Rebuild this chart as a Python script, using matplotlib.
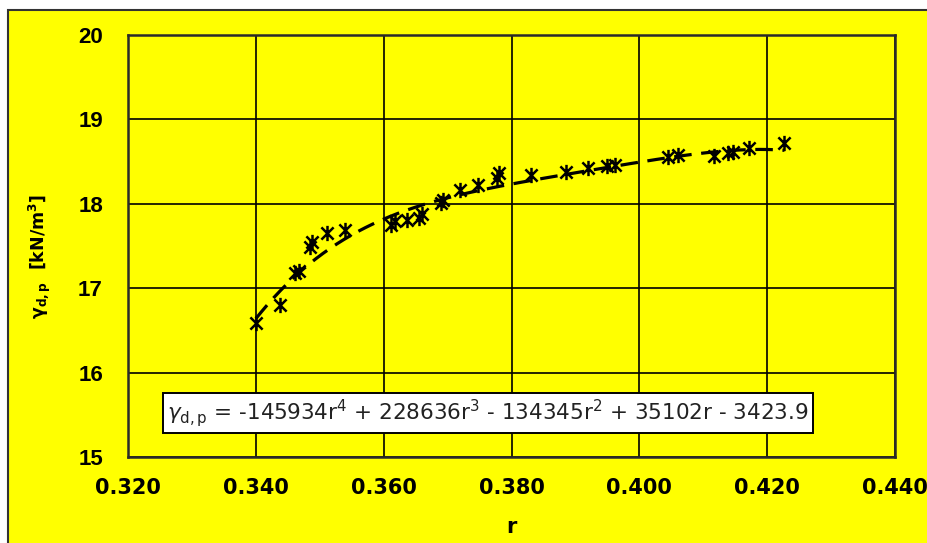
import numpy as np
import matplotlib
matplotlib.use("Agg")
import matplotlib.pyplot as plt
from matplotlib.path import Path
from matplotlib.patches import Rectangle

plt.rcParams['font.family'] = ['DejaVu Sans']
plt.rcParams['mathtext.fontset'] = 'dejavusans'

# measured porosity r and dry unit weight gamma_d,p [kN/m3]
r_vals = [0.3400, 0.3438, 0.3462, 0.3467, 0.3485, 0.3488, 0.3512, 0.3540,
          0.3611, 0.3618, 0.3637, 0.3655, 0.3660, 0.3689, 0.3693, 0.3720,
          0.3747, 0.3778, 0.3780, 0.3830, 0.3885, 0.3920, 0.3950, 0.3962,
          0.4045, 0.4060, 0.4117, 0.4139, 0.4147, 0.4172, 0.4227]
gamma_vals = [16.59, 16.80, 17.18, 17.20, 17.49, 17.55, 17.65, 17.69,
              17.75, 17.80, 17.81, 17.83, 17.88, 18.01, 18.04, 18.16,
              18.22, 18.31, 18.36, 18.34, 18.38, 18.42, 18.45, 18.46,
              18.55, 18.58, 18.57, 18.60, 18.61, 18.66, 18.72]

# 4th-order trend line coefficients (highest power first)
trend_coeffs = [-145934, 228636, -134345, 35102, -3423.9]

x_ticks = [0.320, 0.340, 0.360, 0.380, 0.400, 0.420, 0.440]
y_ticks = [15, 16, 17, 18, 19, 20]

YELLOW = '#FFFF00'

fig = plt.figure(figsize=(9.27, 5.43), dpi=100, facecolor='white')

# outer chart area
fig.patches.append(Rectangle((8 / 927, -0.05), 1.2, 1 - 10 / 543 + 0.05,
                             transform=fig.transFigure, facecolor=YELLOW,
                             edgecolor='#333333', linewidth=1.5, zorder=-10))

ax = fig.add_axes([128 / 927, 1 - 457 / 543, (895 - 128) / 927, (457 - 35) / 543])
ax.set_zorder(5)
ax.set_facecolor(YELLOW)
ax.set_xlim(0.320, 0.440)
ax.set_ylim(15, 20)
ax.set_xticks(x_ticks)
ax.set_yticks(y_ticks)
ax.set_xticklabels([f"{v:.3f}" for v in x_ticks])
ax.set_yticklabels([str(v) for v in y_ticks])
ax.grid(True, color='black', linewidth=1.2)
ax.set_axisbelow(True)
for s in ax.spines.values():
    s.set_color('#2a2a2a')
    s.set_linewidth(1.8)
ax.tick_params(length=0)
ax.tick_params(axis='x', labelsize=15, pad=15)
ax.tick_params(axis='y', labelsize=16, pad=18)
for lbl in ax.get_xticklabels():
    lbl.set_fontweight('bold')
for lbl in ax.get_yticklabels():
    lbl.set_fontweight('bold')
    lbl.set_family('Liberation Sans')

# asterisk marker: vertical bar with two diagonals
star = Path([(0, -1), (0, 1), (-0.8, -0.8), (0.8, 0.8), (-0.8, 0.8), (0.8, -0.8)],
            [Path.MOVETO, Path.LINETO, Path.MOVETO, Path.LINETO, Path.MOVETO, Path.LINETO])

ax.plot(r_vals, gamma_vals, linestyle='none', marker=star, markersize=11,
        markeredgewidth=1.8, color='black', zorder=3)

r_fit = np.linspace(min(r_vals), max(r_vals), 300)
ax.plot(r_fit, np.polyval(trend_coeffs, r_fit), color='black', linewidth=2.3,
        linestyle=(0, (5.5, 3)), zorder=4)

ax.text(0.3763, 15.52,
        r'$\gamma_{\mathregular{d,p}}$ = -145934r$^\mathregular{4}$ + 228636r$^\mathregular{3}$'
        r' - 134345r$^\mathregular{2}$ + 35102r - 3423.9',
        ha='center', va='center', fontsize=15.5, color='#222222',
        bbox=dict(boxstyle='square,pad=0.2', facecolor='white', edgecolor='black', linewidth=1.4),
        zorder=5)

ax.set_xlabel('r', fontsize=15, fontweight='bold', labelpad=14)
ax.set_ylabel(r'$\mathbf{\gamma_{d,p}}$  [kN/m$^\mathbf{3}$]', fontsize=12.5, fontweight='bold')
ax.yaxis.set_label_coords(-0.098, 0.476)

fig.savefig('out.png', dpi=100, facecolor='white')
